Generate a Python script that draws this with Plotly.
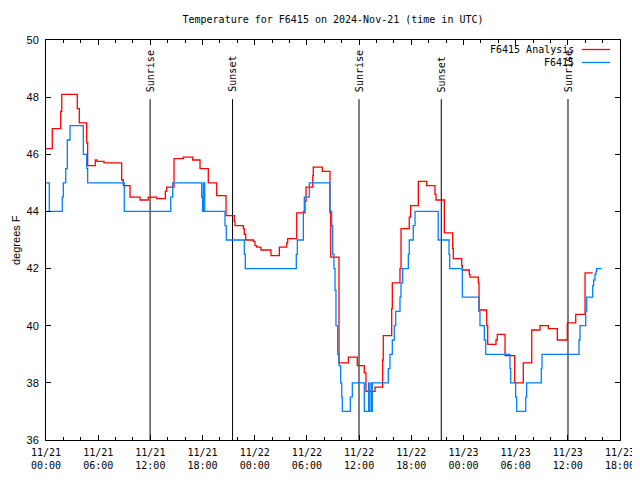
import pandas as pd
import plotly.graph_objects as go

START = pd.Timestamp("2024-11-21 00:00")

# Hours since 2024-11-21 00:00 UTC, and temperatures (deg F)
red_hours = [0.00, 0.72, 1.69, 1.81, 3.60, 3.83, 4.68, 4.79, 5.67, 5.86, 6.67, 8.70, 8.89, 9.66,
             10.81, 11.76, 12.73, 13.72, 13.88, 14.72, 15.79, 16.87, 17.71, 18.66, 19.63, 20.70,
             21.65, 21.73, 22.69, 22.80, 22.96, 23.84, 24.03, 24.23, 24.72, 25.87, 26.83, 27.68,
             27.79, 28.83, 29.78, 29.90, 30.67, 30.73, 31.77, 32.65, 32.74, 33.69, 34.76, 35.79,
             36.60, 36.79, 37.83, 38.71, 38.78, 39.75, 39.82, 40.70, 40.82, 41.77, 41.93, 42.81,
             43.77, 44.73, 44.84, 45.80, 46.76, 46.83, 47.80, 47.87, 48.67, 48.75, 49.71, 49.79,
             50.67, 50.79, 51.74, 51.89, 52.78, 53.89, 54.88, 55.85, 56.80, 57.76, 58.79, 59.94,
             60.91, 61.98, 62.86]
red_temps = [46.2, 46.9, 47.5, 48.1, 47.6, 47.1, 46.4, 45.6, 45.8, 45.75, 45.7, 45.1, 44.9, 44.5,
             44.4, 44.5, 44.45, 44.7, 44.85, 45.85, 45.9, 45.8, 45.5, 45.0, 44.55, 43.85,
             43.65, 43.5, 43.4, 43.2, 43.0, 42.95, 42.8, 42.75, 42.65, 42.45, 42.75, 42.9,
             43.05, 43.95, 44.35, 44.85, 45.25, 45.55, 45.4, 43.95, 42.4, 38.7, 38.9, 38.6,
             38.35, 37.7, 37.85, 38.8, 39.65, 40.6, 41.5, 42.0, 43.4, 43.8, 44.2, 45.05,
             44.9, 44.6, 44.4, 43.25, 42.7, 42.35, 42.1, 41.95, 41.8, 41.7, 41.5, 40.55,
             40.0, 39.35, 39.5, 39.7, 38.95, 38.0, 38.7, 39.85, 40.0, 39.9, 39.5, 40.1,
             40.4, 41.85, 41.85]

blue_hours = [0.00, 0.38, 1.87, 1.99, 2.27, 2.45, 2.76, 4.29, 4.68, 4.79, 9.00, 14.34, 14.57,
              17.90, 18.00, 18.09, 18.25, 20.58, 20.73, 22.80, 22.92, 28.78, 28.90, 29.59, 29.70,
              30.28, 32.65, 32.85, 32.97, 33.11, 33.23, 33.34, 33.54, 33.69, 33.88, 34.00, 34.07,
              34.99, 35.22, 36.60, 37.10, 37.17, 37.37, 37.45, 37.52, 39.36, 39.55, 39.82, 40.05,
              40.21, 40.70, 40.82, 41.01, 41.66, 41.77, 42.23, 42.43, 45.10, 46.34, 46.42, 47.87,
              49.79, 49.90, 50.40, 50.56, 53.35, 53.43, 54.00, 54.12, 55.16, 55.27, 56.95, 57.03,
              61.29, 61.40, 62.06, 62.17, 62.86, 62.97, 63.12, 63.24, 63.32, 63.90]
blue_temps = [45.0, 44.0, 44.5, 45.0, 45.5, 46.5, 47.0, 46.0, 45.5, 45.0, 44.0, 44.5, 45.0,
              44.5, 44.0, 45.0, 44.0, 43.5, 43.0, 42.5, 42.0, 42.5, 43.0, 44.0, 44.5,
              45.0, 44.0, 43.5, 42.5, 42.0, 41.25, 40.0, 39.0, 38.6, 38.0, 37.5, 37.0,
              37.5, 38.0, 37.0, 38.0, 37.0, 38.0, 37.0, 38.0, 38.5, 39.0, 39.5, 40.0,
              40.5, 41.0, 41.5, 42.0, 42.5, 43.0, 43.5, 44.0, 43.0, 42.5, 42.0, 41.0,
              40.5, 40.0, 39.5, 39.0, 38.5, 38.0, 37.5, 37.0, 37.5, 38.0, 38.5, 39.0,
              39.5, 40.0, 40.5, 41.0, 41.4, 41.6, 41.8, 41.9, 42.0, 42.0]

event_hours = [11.97, 21.45, 35.99, 45.45, 60.02]
event_labels = ["Sunrise", "Sunset", "Sunrise", "Sunset", "Sunrise"]
event_line_top = 47.93

y_range = [36, 50]
x_range_hours = [0, 66]
y_ticks = [36, 38, 40, 42, 44, 46, 48, 50]

TITLE = "Temperature for F6415 on 2024-Nov-21 (time in UTC)"
RED_NAME = "F6415 Analysis"
BLUE_NAME = "F6415"
Y_LABEL = "degrees F"

MONO = "DejaVu Sans Mono"
SANS = "Liberation Sans, Arial, sans-serif"
RED = "#ff0000"
BLUE = "rgb(0,128,255)"

# page body has an 8px default margin: figure is placed at (8, 8) in the window
OFF = 8
FIG_W, FIG_H = 640 - OFF, 480 - 2 * OFF
# plot area in window pixels
L, R, T, B = 46, 620, 40, 440
l_m, t_m = L - OFF, T - OFF
r_m = FIG_W - (R - OFF)
b_m = FIG_H - (B - OFF)
W, H = R - L, B - T


def px(xp):
    return (xp - L) / W


def py(yp):
    return (B - yp) / H


def to_time(hours):
    return [START + pd.Timedelta(hours=h) for h in hours]


fig = go.Figure()

# vertical sunrise / sunset lines
ex, ey = [], []
for t in to_time(event_hours):
    ex += [t, t, None]
    ey += [y_range[0], event_line_top, None]
fig.add_trace(go.Scatter(x=ex, y=ey, mode="lines", line=dict(color="black", width=1),
                         hoverinfo="skip", showlegend=False))

fig.add_trace(go.Scatter(x=to_time(red_hours), y=red_temps, mode="lines", name=RED_NAME,
                         line=dict(color=RED, width=1.3, shape="hv"), showlegend=False))
fig.add_trace(go.Scatter(x=to_time(blue_hours), y=blue_temps, mode="lines", name=BLUE_NAME,
                         line=dict(color=BLUE, width=1.3, shape="hv"), showlegend=False))

annotations = []
for t, lab in zip(to_time(event_hours), event_labels):
    annotations.append(dict(x=t, y=event_line_top, xref="x", yref="y", text=lab, showarrow=False,
                            textangle=-90, xanchor="center", yanchor="bottom", yshift=5,
                            font=dict(family=MONO, size=10, color="black")))

# manual legend (gnuplot style: text right-aligned, sample line to the right)
legend_items = [(RED_NAME, RED, 49.5), (BLUE_NAME, BLUE, 62.5)]
shapes = []
for name, col, ypix in legend_items:
    annotations.append(dict(x=px(576), y=py(ypix), xref="paper", yref="paper", text=name,
                            showarrow=False, xanchor="right", yanchor="middle",
                            font=dict(family=MONO, size=10, color="black")))
    shapes.append(dict(type="line", xref="paper", yref="paper", x0=px(582), x1=px(610),
                       y0=py(ypix), y1=py(ypix), line=dict(color=col, width=1.3)))

annotations.append(dict(x=px(OFF), y=0.5, xref="paper", yref="paper", text=Y_LABEL,
                        showarrow=False, textangle=-90, xanchor="left", yanchor="middle",
                        font=dict(family=SANS, size=11, color="black")))

fig.update_layout(
    width=FIG_W, height=FIG_H,
    margin=dict(l=l_m, r=r_m, t=t_m, b=b_m, pad=0, autoexpand=False),
    paper_bgcolor="white", plot_bgcolor="white",
    title=dict(text=TITLE, x=(333 - OFF) / FIG_W, xanchor="center",
               y=1 - (19 - OFF) / FIG_H, yanchor="middle",
               font=dict(family=MONO, size=10, color="black")),
    annotations=annotations, shapes=shapes, showlegend=False,
    xaxis=dict(range=[START + pd.Timedelta(hours=x_range_hours[0]),
                      START + pd.Timedelta(hours=x_range_hours[1])],
               type="date", tick0=START, dtick=6 * 3600 * 1000, automargin=False,
               tickformat="%m/%d<br>%H:%M", ticks="inside", ticklen=5, tickcolor="black",
               showline=True, linecolor="black", linewidth=1, mirror="allticks",
               showgrid=False, zeroline=False, ticklabelstandoff=3,
               minor=dict(dtick=2 * 3600 * 1000, ticks="inside", ticklen=3, tickcolor="black",
                          showgrid=False),
               tickfont=dict(family=MONO, size=10, color="black")),
    yaxis=dict(range=y_range, tickvals=y_ticks, ticks="inside", ticklen=5, tickcolor="black",
               showline=True, linecolor="black", linewidth=1, mirror="allticks",
               showgrid=False, zeroline=False, ticklabelstandoff=4, automargin=False,
               tickfont=dict(family=SANS, size=11, color="black")),
)

fig.write_html("out.html")
